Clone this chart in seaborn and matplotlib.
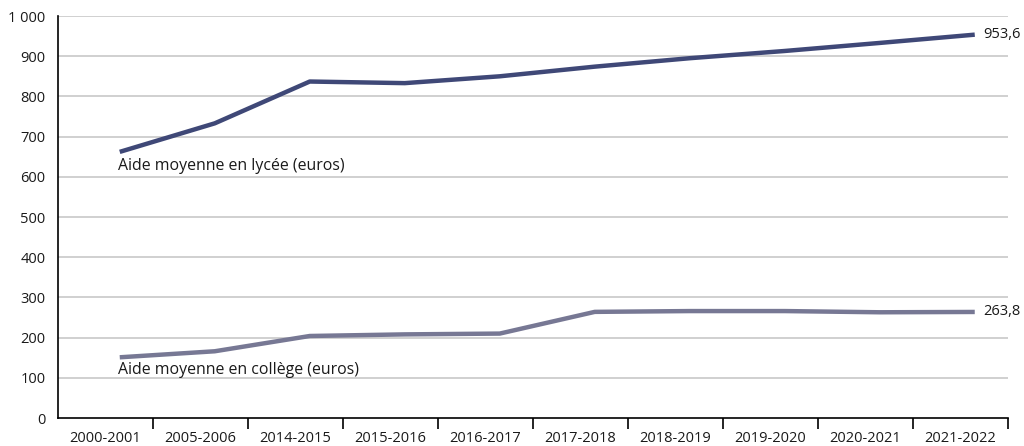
import numpy as np
import pandas as pd
import matplotlib
matplotlib.use("Agg")
import matplotlib.pyplot as plt
import seaborn as sns

categories = ["2000-2001", "2005-2006", "2014-2015", "2015-2016", "2016-2017",
              "2017-2018", "2018-2019", "2019-2020", "2020-2021", "2021-2022"]
lycee = [662, 733, 837, 833, 850, 874, 895, 913, 933, 953.6]
college = [151, 166, 204, 208, 210, 264, 266, 266, 263, 263.8]
series_names = ["Aide moyenne en lycée (euros)", "Aide moyenne en collège (euros)"]
yticks = [0, 100, 200, 300, 400, 500, 600, 700, 800, 900, 1000]
ytick_labels = ["0", "100", "200", "300", "400", "500", "600", "700", "800", "900", "1 000"]

sns.set_theme(style="white")
plt.rcParams['font.family'] = ['Open Sans', 'DejaVu Sans']

n = len(categories)
offset = 0.65
df = pd.DataFrame({
    "x": np.concatenate([np.arange(n) + offset, np.arange(n) + offset]),
    "value": lycee + college,
    "serie": [series_names[0]] * n + [series_names[1]] * n,
})
colors = {series_names[0]: "#3f4877", series_names[1]: "#777894"}

fig = plt.figure(figsize=(10.24, 4.46), dpi=100)
ax = fig.add_axes([58 / 1024, 1 - 418 / 446, 950 / 1024, 402 / 446])

for y in yticks[1:]:
    ax.axhline(y, color="#c4c4c4", lw=1.1, zorder=0)

sns.lineplot(data=df, x="x", y="value", hue="serie", palette=colors, lw=3.2,
             legend=False, ax=ax, zorder=3, solid_capstyle="butt")

fs = 10.5
fs_ann = 11.4
ax.set_xlim(0, n)
ax.set_ylim(0, 1000)
ax.set_xticks(np.arange(n) + 0.5)
ax.set_xticklabels(categories, fontsize=fs, color="#1a1a1a")
ax.set_xticks(np.arange(1, n + 1), minor=True)
ax.tick_params(axis="x", which="major", length=0, pad=9)
ax.tick_params(axis="x", which="minor", length=8, width=1.2, color="black", direction="out", bottom=True)
ax.set_yticks(yticks)
ax.set_yticklabels(ytick_labels, fontsize=fs, color="#1a1a1a")
ax.tick_params(axis="y", length=0, pad=9)
ax.set_xlabel("")
ax.set_ylabel("")
for s in ["top", "right"]:
    ax.spines[s].set_visible(False)
for s in ["left", "bottom"]:
    ax.spines[s].set_visible(True)
    ax.spines[s].set_color("black")
    ax.spines[s].set_linewidth(1.2)

ax.text(offset - 0.02, 627, series_names[0], fontsize=fs_ann, color="#1a1a1a", va="center", ha="left")
ax.text(offset - 0.02, 119, series_names[1], fontsize=fs_ann, color="#1a1a1a", va="center", ha="left")
ax.text(n - 1 + offset + 0.09, lycee[-1], "953,6", fontsize=fs, color="#1a1a1a", va="center", ha="left", clip_on=False)
ax.text(n - 1 + offset + 0.09, college[-1], "263,8", fontsize=fs, color="#1a1a1a", va="center", ha="left", clip_on=False)

fig.savefig("out.png", dpi=100)
